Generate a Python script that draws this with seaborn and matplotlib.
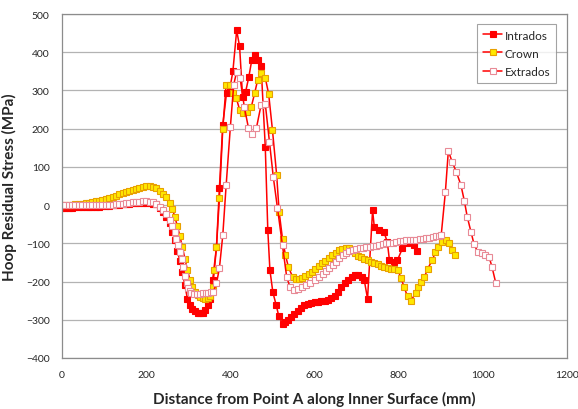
"""
Hoop residual stress along the inner surface: intrados / crown / extrados
"""
import numpy as np
import pandas as pd
import matplotlib
matplotlib.use('Agg')
import matplotlib.pyplot as plt
import seaborn as sns

sns.set_style('white')
plt.rcParams['font.family'] = ['Lato', 'DejaVu Sans']

C_LINE = '#FF0000'
C_GRID = '#B3B3B3'
C_AXIS = '#8C8C8C'

# ========== data ==========
intrados_x = [0, 8, 16, 24, 32, 40, 48, 56, 64, 72, 80, 88, 96, 104, 112, 120, 128, 136,
              144, 152, 160, 168, 176, 184, 192, 200, 208, 216, 224, 232, 240, 248, 256,
              262, 268, 274, 280, 286, 292, 298, 304, 310, 316, 322, 328, 334, 340, 346,
              352, 358, 367, 374, 382, 391, 398, 406, 415, 422, 429, 436, 444, 451, 458,
              465, 473, 483, 489, 494, 501, 509, 515, 524, 531, 538, 545, 552, 560, 568,
              576, 584, 592, 600, 608, 616, 624, 632, 640, 648, 656, 664, 672, 680, 688,
              696, 704, 712, 718, 726, 738, 742, 754, 765, 773, 778, 788, 797, 809, 820,
              837, 844]
intrados_y = [-7, -7, -7, -7, -6, -6, -6, -5, -5, -5, -4, -4, -3, -3, -2, -1, 0, 1,
              2, 3, 4, 5, 5, 6, 6, 6, 5, 4, 2, -8, -18, -30, -48,
              -70, -92, -120, -145, -175, -210, -245, -262, -272, -278, -282, -283, -281, -275, -262,
              -245, -195, -110, 45, 210, 294, 300, 350, 457, 415, 283, 295, 336, 380, 393,
              380, 365, 152, -66, -170, -228, -262, -290, -310, -305, -300, -292, -285, -278, -270,
              -262, -258, -256, -254, -253, -252, -250, -248, -244, -238, -228, -215, -205, -196, -188,
              -184, -183, -188, -195, -245, -13, -57, -64, -70, -97, -144, -150, -144, -113, -100,
              -105, -120]

crown_x = [0, 8, 16, 24, 32, 40, 48, 56, 64, 72, 80, 88, 96, 104, 112, 120, 128, 136,
           144, 152, 160, 168, 176, 184, 192, 200, 208, 216, 224, 232, 240, 248, 256,
           262, 268, 274, 280, 286, 292, 298, 304, 310, 316, 322, 328, 334, 340, 346,
           352, 358, 362, 367, 374, 382, 390, 398, 406, 414, 422, 429, 440, 450, 458,
           465, 473, 483, 491, 500, 510, 516, 524, 531, 538, 548, 555, 562, 570, 578,
           586, 594, 602, 610, 618, 626, 634, 642, 650, 658, 666, 674, 683, 690, 697,
           704, 711, 718, 726, 734, 742, 750, 758, 766, 774, 782, 790, 798, 806, 813,
           821, 829, 840, 846, 853, 861, 869, 880, 887, 894, 903, 912, 920, 927, 934]
crown_y = [0, 0, 1, 1, 2, 3, 4, 5, 6, 8, 10, 12, 14, 16, 19, 22, 25, 28,
           31, 34, 37, 40, 43, 46, 48, 50, 50, 48, 44, 38, 30, 20, 6,
           -10, -30, -55, -80, -110, -140, -170, -195, -215, -228, -236, -240, -243, -245, -244,
           -238, -215, -170, -110, 18, 200, 315, 315, 294, 280, 250, 240, 243, 258, 294,
           328, 346, 333, 291, 197, 79, -18, -89, -131, -162, -188, -193, -193, -190, -185,
           -180, -175, -168, -160, -152, -145, -138, -130, -124, -118, -114, -113, -113, -118, -125,
           -132, -136, -140, -144, -148, -152, -155, -158, -161, -164, -166, -168, -170, -192, -215,
           -239, -250, -231, -213, -200, -189, -166, -144, -123, -110, -97, -92, -100, -118, -131]

extrados_x = [0, 8, 16, 24, 32, 40, 48, 56, 64, 72, 80, 88, 96, 104, 112, 120, 128, 136,
              144, 152, 160, 168, 176, 184, 192, 200, 208, 216, 224, 232, 240, 248, 256,
              262, 268, 272, 276, 280, 284, 288, 292, 296, 299, 303, 307, 314, 321, 328,
              335, 341, 347, 353, 359, 367, 374, 382, 390, 400, 408, 415, 423, 433, 443,
              452, 462, 473, 483, 493, 502, 512, 524, 534, 542, 552, 560, 570, 580, 590,
              600, 610, 619, 627, 635, 643, 651, 659, 667, 675, 683, 691, 699, 707, 715,
              723, 731, 739, 746, 754, 762, 770, 778, 786, 794, 802, 810, 818, 826, 834,
              842, 850, 858, 865, 873, 881, 889, 896, 901, 911, 918, 927, 937, 948, 956,
              963, 972, 979, 988, 998, 1006, 1015, 1022, 1031]
extrados_y = [0, 0, 0, 0, 0, 0, 0, -1, -1, -1, -1, -1, -1, 0, 0, 1, 2, 3,
              4, 5, 6, 7, 8, 9, 10, 10, 9, 7, 4, -5, -12, -22, -38,
              -55, -70, -88, -105, -122, -140, -163, -186, -205, -218, -226, -231, -233, -233, -232,
              -231, -230, -229, -228, -228, -205, -165, -79, 52, 204, 315, 349, 333, 258, 202,
              186, 202, 262, 265, 165, 74, -8, -105, -189, -215, -223, -220, -215, -210, -203,
              -197, -188, -179, -172, -165, -157, -149, -139, -131, -126, -121, -118, -115, -113, -111,
              -110, -109, -108, -108, -105, -103, -100, -99, -98, -97, -95, -93, -92, -91, -90,
              -90, -89, -88, -87, -85, -84, -82, -80, -79, 35, 142, 113, 87, 52, 11,
              -31, -71, -102, -123, -126, -130, -136, -163, -205]

x_ticks = [0, 200, 400, 600, 800, 1000, 1200]
y_ticks = [-400, -300, -200, -100, 0, 100, 200, 300, 400, 500]

series = [
    ('Intrados', intrados_x, intrados_y, C_LINE, C_LINE),
    ('Crown', crown_x, crown_y, '#FFE800', '#E8A000'),
    ('Extrados', extrados_x, extrados_y, '#FFFFFF', '#E88A96'),
]

# ========== figure ==========
fig = plt.figure(figsize=(5.78, 4.10), dpi=100)
ax = fig.add_axes([0.1073, 0.1244, 0.8737, 0.839])

for name, xs, ys, face, edge in series:
    df = pd.DataFrame({'x': xs, 'y': ys})
    sns.lineplot(data=df, x='x', y='y', ax=ax, sort=False, estimator=None,
                 color=C_LINE, linewidth=1.1, marker='s', markersize=4.3,
                 markerfacecolor=face, markeredgecolor=edge, markeredgewidth=0.8,
                 label=name)

ax.set_xlim(0, 1200)
ax.set_ylim(-400, 500)
ax.set_xticks(x_ticks)
ax.set_yticks(y_ticks)
ax.tick_params(axis='both', labelsize=7.5, width=0.8, color=C_AXIS)
ax.tick_params(axis='x', direction='inout', length=5, pad=6)
ax.tick_params(axis='y', direction='out', length=3, pad=6)
ax.grid(axis='y', color=C_GRID, linewidth=0.9)
ax.grid(axis='x', visible=False)
for sp in ax.spines.values():
    sp.set_color(C_AXIS)
    sp.set_linewidth(0.9)

ax.set_xlabel('Distance from Point A along Inner Surface (mm)', fontsize=11,
              fontweight='bold', labelpad=9)
ax.set_ylabel('Hoop Residual Stress (MPa)', fontsize=11, fontweight='bold', labelpad=6)

leg = ax.legend(loc='upper right', bbox_to_anchor=(0.978, 0.972), fontsize=8.5,
                frameon=True, fancybox=False, handlelength=1.6, handletextpad=0.2,
                borderpad=0.5, labelspacing=0.6, borderaxespad=0)
leg.get_frame().set_edgecolor(C_AXIS)
leg.get_frame().set_linewidth(0.8)

plt.savefig('out.png', dpi=100)
